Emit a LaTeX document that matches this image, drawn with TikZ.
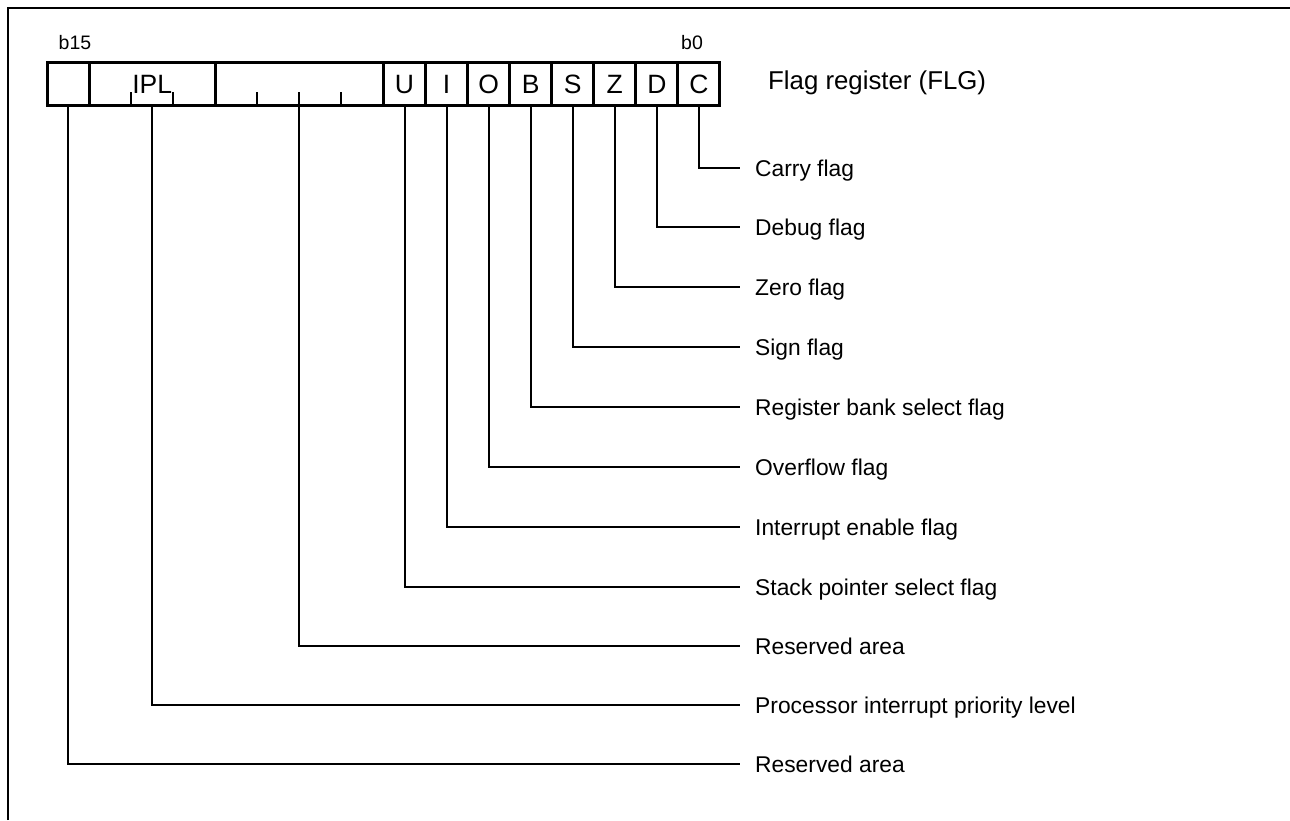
\documentclass[tikz,border=0pt]{standalone}
\usepackage{fontspec}
\setmainfont{Liberation Sans}
\begin{document}
\begin{tikzpicture}[x=1pt,y=-1pt,
  cell/.style={draw, line width=3pt, minimum height=43pt, anchor=north west, inner sep=0pt, outer sep=0pt, font=\fontsize{26.5}{27}\selectfont, text height=19pt, text depth=0pt},
  lab/.style={anchor=west, inner xsep=15pt, inner ysep=0pt, text height=16pt, text depth=0pt, font=\fontsize{22.8}{24}\selectfont},
  conn/.style={line width=2pt},
  tick/.style={line width=2pt},
  bitnum/.style={inner sep=0pt, font=\fontsize{19.5}{20}\selectfont}]
\useasboundingbox (0,0) rectangle (1290,820);
\fill[white] (0,0) rectangle (1290,820);
% frame
\draw[line width=2.2pt] (8,820) -- (8,8) -- (1290,8);
\def\bw{42.06}
% register cells
\node[cell, minimum width=1*\bw pt] (c15) at (47,62) {};
\node[cell, minimum width=3*\bw pt] (ipl) at (47+\bw,62) {IPL};
\node[cell, minimum width=4*\bw pt] (res) at (47+4*\bw,62) {};
\node[cell, minimum width=\bw pt] (U) at (47+8*\bw,62) {U};
\node[cell, minimum width=\bw pt] (I) at (47+9*\bw,62) {I};
\node[cell, minimum width=\bw pt] (O) at (47+10*\bw,62) {O};
\node[cell, minimum width=\bw pt] (B) at (47+11*\bw,62) {B};
\node[cell, minimum width=\bw pt] (S) at (47+12*\bw,62) {S};
\node[cell, minimum width=\bw pt] (Z) at (47+13*\bw,62) {Z};
\node[cell, minimum width=\bw pt] (D) at (47+14*\bw,62) {D};
\node[cell, minimum width=\bw pt] (C) at (47+15*\bw,62) {C};
% ticks
\foreach \k in {2,3,5,6,7}{
  \draw[tick] (47+\k*\bw,105) -- (47+\k*\bw,92);
}
% bit numbers
\node[bitnum] (b15) at (75,43) {b15};
\node[bitnum] (b0) at (692,43) {b0};
% title
\node[anchor=west, inner sep=0pt, font=\fontsize{25.8}{26}\selectfont] (title) at (768,83) {Flag register (FLG)};
% labels
\node[lab] (lC) at (740,168) {Carry flag};
\node[lab] (lD) at (740,227) {Debug flag};
\node[lab] (lZ) at (740,287) {Zero flag};
\node[lab] (lS) at (740,347) {Sign flag};
\node[lab] (lB) at (740,407) {Register bank select flag};
\node[lab] (lO) at (740,467) {Overflow flag};
\node[lab] (lI) at (740,527) {Interrupt enable flag};
\node[lab] (lU) at (740,587) {Stack pointer select flag};
\node[lab] (lres) at (740,646) {Reserved area};
\node[lab] (lipl) at (740,705) {Processor interrupt priority level};
\node[lab] (l15) at (740,764) {Reserved area};
% connectors
\draw[conn] (C.south) |- (lC.west);
\draw[conn] (D.south) |- (lD.west);
\draw[conn] (Z.south) |- (lZ.west);
\draw[conn] (S.south) |- (lS.west);
\draw[conn] (B.south) |- (lB.west);
\draw[conn] (O.south) |- (lO.west);
\draw[conn] (I.south) |- (lI.west);
\draw[conn] (U.south) |- (lU.west);
\draw[conn] (res.south) |- (lres.west);
\draw[conn] (ipl.south) |- (lipl.west);
\draw[conn] (c15.south) |- (l15.west);
\end{tikzpicture}
\end{document}
